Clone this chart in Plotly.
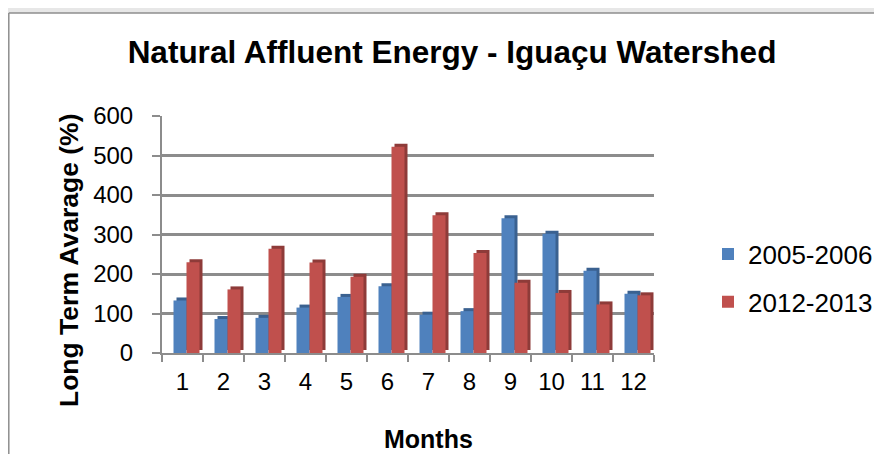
import plotly.graph_objects as go

months = ["1", "2", "3", "4", "5", "6", "7", "8", "9", "10", "11", "12"]
series_names = ["2005-2006", "2012-2013"]
values_2005_2006 = [133, 86, 89, 115, 142, 169, 97, 106, 341, 302, 208, 150]
values_2012_2013 = [230, 161, 264, 229, 193, 522, 349, 253, 178, 152, 123, 146]
y_ticks = [0, 100, 200, 300, 400, 500, 600]

FONT = "Liberation Sans, Arial, sans-serif"
BLUE, BLUE_DARK = "#4F81BD", "#3A6190"
RED, RED_DARK = "#C0504D", "#8E3B39"
OUTER = "#e7e7e7"
EDGE = "#8e8e8e"

# page is offset by the default 8px body margin; work in figure pixels
W, H = 866, 446
L, R, T, B = 154, 646, 108, 345
pw, ph = R - L, B - T
cat_px = pw / len(months)
px_per_unit = ph / 600.0

bar_w = 13 / cat_px
side = 3 / cat_px
lift = 3 / px_per_unit
offsets = [-9 / cat_px, 4 / cat_px]

fig = go.Figure()
for name, vals, col, dark, off in [
    (series_names[0], values_2005_2006, BLUE, BLUE_DARK, offsets[0]),
    (series_names[1], values_2012_2013, RED, RED_DARK, offsets[1]),
]:
    # depth (side/top) face
    fig.add_trace(go.Bar(
        x=months, y=vals, base=[lift] * len(vals), width=bar_w, offset=off + side,
        marker=dict(color=dark, line=dict(width=0)), showlegend=False, hoverinfo="skip",
    ))
    # front face
    fig.add_trace(go.Bar(
        x=months, y=vals, width=bar_w, offset=off, name=name, legendgroup=name,
        marker=dict(color=col, line=dict(width=0)),
    ))

def px_to_paper_x(px):
    return (px - L) / pw

def px_to_paper_y(py):
    return (B - py) / ph

# outer gray strips (top and left) and the chart-area border
fig.add_shape(type="rect", xref="paper", yref="paper", layer="below",
              x0=px_to_paper_x(-20), x1=px_to_paper_x(920),
              y0=px_to_paper_y(5), y1=px_to_paper_y(-20),
              fillcolor=OUTER, line=dict(width=0))
fig.add_shape(type="rect", xref="paper", yref="paper", layer="below",
              x0=px_to_paper_x(-20), x1=px_to_paper_x(0.8),
              y0=px_to_paper_y(490), y1=px_to_paper_y(-20),
              fillcolor=OUTER, line=dict(width=0))
fig.add_shape(type="line", xref="paper", yref="paper", layer="below",
              x0=px_to_paper_x(0.8), x1=px_to_paper_x(920),
              y0=px_to_paper_y(5), y1=px_to_paper_y(5),
              line=dict(color=EDGE, width=1.5))
fig.add_shape(type="line", xref="paper", yref="paper", layer="below",
              x0=px_to_paper_x(0.8), x1=px_to_paper_x(0.8),
              y0=px_to_paper_y(5), y1=px_to_paper_y(490),
              line=dict(color=EDGE, width=1.5))

fig.add_annotation(
    text="<b>Months</b>", xref="paper", yref="paper",
    x=px_to_paper_x(420), y=px_to_paper_y(431), showarrow=False,
    font=dict(family=FONT, size=25, color="black"), xanchor="center", yanchor="middle",
)
fig.add_annotation(
    text="<b>Long Term Avarage (%)</b>", xref="paper", yref="paper", textangle=-90,
    x=px_to_paper_x(61), y=px_to_paper_y(252), showarrow=False,
    font=dict(family=FONT, size=26.5, color="black"), xanchor="center", yanchor="middle",
)

fig.update_layout(
    width=W, height=H,
    margin=dict(l=L, r=W - R, t=T, b=H - B, pad=0, autoexpand=False),
    paper_bgcolor="white", plot_bgcolor="white",
    barmode="overlay",
    title=dict(
        text="<b>Natural Affluent Energy - Iguaçu Watershed</b>",
        x=444 / W, xref="container", xanchor="center",
        y=1 - 44 / H, yref="container", yanchor="middle",
        font=dict(family=FONT, size=31.5, color="black"),
    ),
    font=dict(family=FONT, color="black"),
    legend=dict(
        x=px_to_paper_x(700), xanchor="left", y=px_to_paper_y(270), yanchor="middle",
        font=dict(family=FONT, size=26, color="black"), bgcolor="rgba(0,0,0,0)",
        traceorder="grouped", tracegroupgap=11,
    ),
    showlegend=True,
)
fig.update_xaxes(
    type="category", range=[-0.5, 11.5], tickson="boundaries", automargin=False,
    ticks="outside", ticklen=7, tickwidth=1.5, tickcolor="#8c8c8c",
    showline=True, linecolor="#8c8c8c", linewidth=2,
    showgrid=False, tickfont=dict(family=FONT, size=24, color="black"),
    ticklabelstandoff=6,
)
fig.update_yaxes(
    range=[0, 600], tickvals=y_ticks, ticks="outside", ticklen=8, tickwidth=1.5,
    automargin=False,
    tickcolor="#8c8c8c", showline=True, linecolor="#8c8c8c", linewidth=2,
    showgrid=True, gridcolor="#8c8c8c", gridwidth=2.5, zeroline=False,
    tickfont=dict(family=FONT, size=24, color="black"), ticklabelstandoff=14,
)

fig.write_html("out.html")
